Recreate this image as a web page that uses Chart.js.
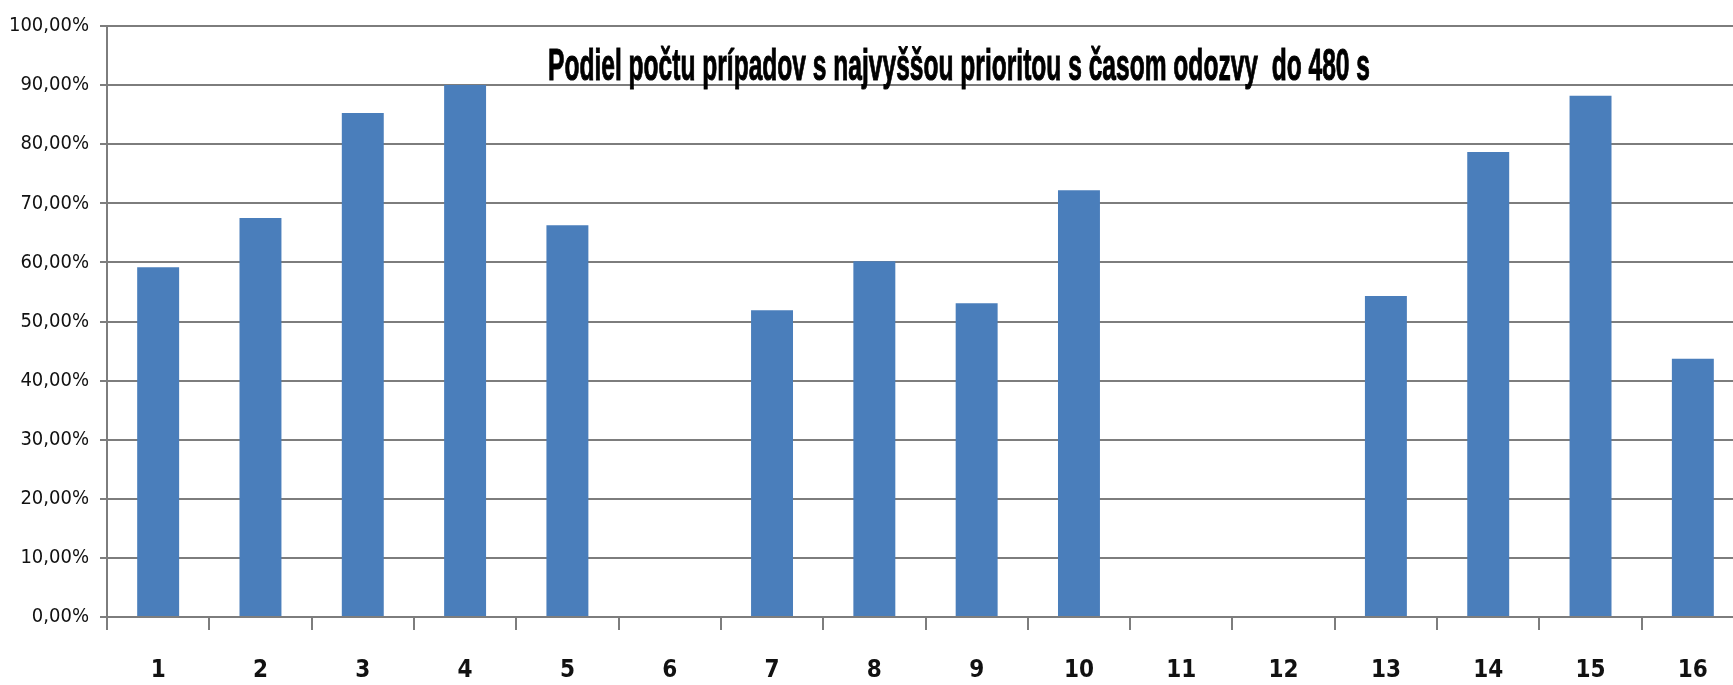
<!DOCTYPE html>
<html>
<head>
<meta charset="utf-8">
<script src="https://cdn.jsdelivr.net/npm/chart.js@4"></script>
<style>
  html, body { margin: 0; padding: 0; background: #fff; overflow: hidden; }
  #wrap { width: 1733px; height: 685px; overflow: hidden; }
</style>
</head>
<body>
<div id="wrap"><canvas id="graf" width="1745" height="685"></canvas></div>
<script>
// ---- data ----
const titulok = "Podiel počtu prípadov s najvyššou prioritou s časom odozvy  do 480 s";
const kategorie = ["1","2","3","4","5","6","7","8","9","10","11","12","13","14","15","16"];
const podiel = [59.2, 67.5, 85.3, 90.0, 66.3, 0, 51.9, 60.2, 53.1, 72.2, 0, 0, 54.3, 78.7, 88.2, 43.7];

const sivaMriezka = "#7d7d7d";
const uzkyFont = "'Liberation Sans Narrow', 'DejaVu Sans Condensed', 'Liberation Sans', sans-serif";

// title drawn squeezed like in the original
const nadpis = {
  id: "nadpis",
  afterDraw(chart) {
    const c = chart.ctx;
    c.save();
    c.font = "bold 45px 'Liberation Sans', sans-serif";
    c.fillStyle = "#000";
    c.strokeStyle = "#000";
    c.lineWidth = 1;
    c.textAlign = "center";
    c.textBaseline = "alphabetic";
    c.fillText(titulok, 959, 80, 822);
    c.strokeText(titulok, 959, 80, 822);
    c.restore();
  }
};

const ctx = document.getElementById("graf").getContext("2d");

new Chart(ctx, {
  type: "bar",
  data: {
    labels: kategorie,
    datasets: [{
      data: podiel,
      backgroundColor: "#4a7ebb",
      borderWidth: 0,
      categoryPercentage: 1,
      barPercentage: 0.41
    }]
  },
  options: {
    responsive: false,
    animation: false,
    layout: { padding: { top: 26, right: 1, left: 0, bottom: 0 } },
    plugins: {
      legend: { display: false },
      title: { display: false },
      tooltip: { enabled: false }
    },
    scales: {
      x: {
        afterFit: s => { s.height = 68; },
        grid: {
          offset: true,
          drawOnChartArea: false,
          tickLength: 13,
          color: sivaMriezka,
          lineWidth: 2
        },
        border: { color: sivaMriezka, width: 2 },
        ticks: {
          padding: 26,
          color: "#111",
          font: { family: uzkyFont, size: 24, weight: "bold" },
          maxRotation: 0,
          autoSkip: false
        }
      },
      y: {
        min: 0,
        max: 100,
        afterFit: s => { s.width = 107; },
        grid: { color: sivaMriezka, lineWidth: 2, tickLength: 7 },
        border: { color: sivaMriezka, width: 2 },
        ticks: {
          stepSize: 10,
          padding: 11,
          color: "#111",
          font: { family: uzkyFont, size: 20 },
          callback: v => v.toFixed(2).replace(".", ",") + "%"
        }
      }
    }
  },
  plugins: [nadpis]
});
</script>
</body>
</html>
